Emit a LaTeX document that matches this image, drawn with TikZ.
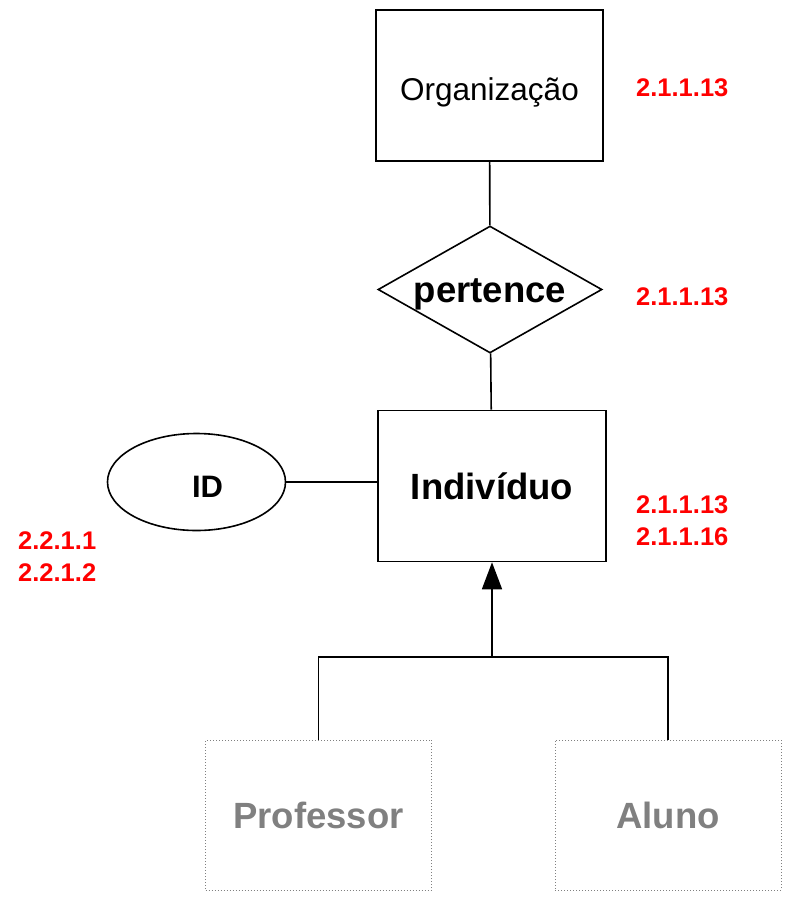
\documentclass[tikz,border=0pt]{standalone}
\usepackage{fontspec}
\setmainfont{Liberation Sans}
\usetikzlibrary{shapes.geometric,arrows.meta}
\definecolor{refred}{RGB}{255,0,0}
\definecolor{refgray}{RGB}{128,128,128}
\begin{document}
\begin{tikzpicture}[x=1pt,y=-1pt,
  ent/.style={draw,line width=1.6pt,minimum width=228pt,minimum height=151pt,inner sep=0pt},
  weak/.style={draw=refgray,dotted,line width=1pt,minimum width=226pt,minimum height=150pt,inner sep=0pt,text=refgray,font=\fontsize{36.5}{40}\selectfont\bfseries},
  rel/.style={draw,diamond,line width=1.6pt,minimum width=224pt,minimum height=127pt,aspect=1.76,inner sep=0pt},
  attr/.style={draw,ellipse,line width=1.6pt,minimum width=178pt,minimum height=97pt,inner sep=0pt},
  conn/.style={line width=1.6pt},
  lbl/.style={text=refred,anchor=west,inner sep=0pt,align=left,font=\fontsize{25.5}{32}\selectfont\bfseries}]
\useasboundingbox (0,0) rectangle (787,897);
\node[ent,minimum width=227pt,text height=29pt,text depth=0pt] (org) at (489.5,85.5) {\fontsize{31.5}{36}\selectfont Organização};
\node[rel,text height=25pt,text depth=0pt] (rel) at (490,289.5) {\fontsize{36.5}{40}\selectfont\bfseries pertence};
\node[ent,text height=26pt,text depth=0pt] (ind) at (492,486) {\fontsize{36.5}{40}\selectfont\bfseries Indivíduo};
\node[attr,text height=30pt,text depth=0pt] (id) at (196.5,482) {\fontsize{31}{36}\selectfont\bfseries\hspace*{22pt}ID};
\node[weak] (prof) at (318.5,815) {Professor};
\node[weak] (alu) at (668,815) {Aluno};
\coordinate (jn) at (492,657);
\draw[conn] (org) -- (rel);
\draw[conn] (rel) -- (ind);
\draw[conn] (id.east) -- (id.east -| ind.west);
\draw[conn] (prof.north) |- (jn) -| (alu.north);
\draw[conn,-{Triangle[length=27pt,width=20pt]}] (jn) -- (ind.south);
\node[lbl] (l1) at (636,88) {2.1.1.13};
\node[lbl] (l2) at (636,297) {2.1.1.13};
\node[lbl] (l3) at (636,521) {2.1.1.13\\2.1.1.16};
\node[lbl] (l4) at (18,557) {2.2.1.1\\2.2.1.2};
\end{tikzpicture}
\end{document}
